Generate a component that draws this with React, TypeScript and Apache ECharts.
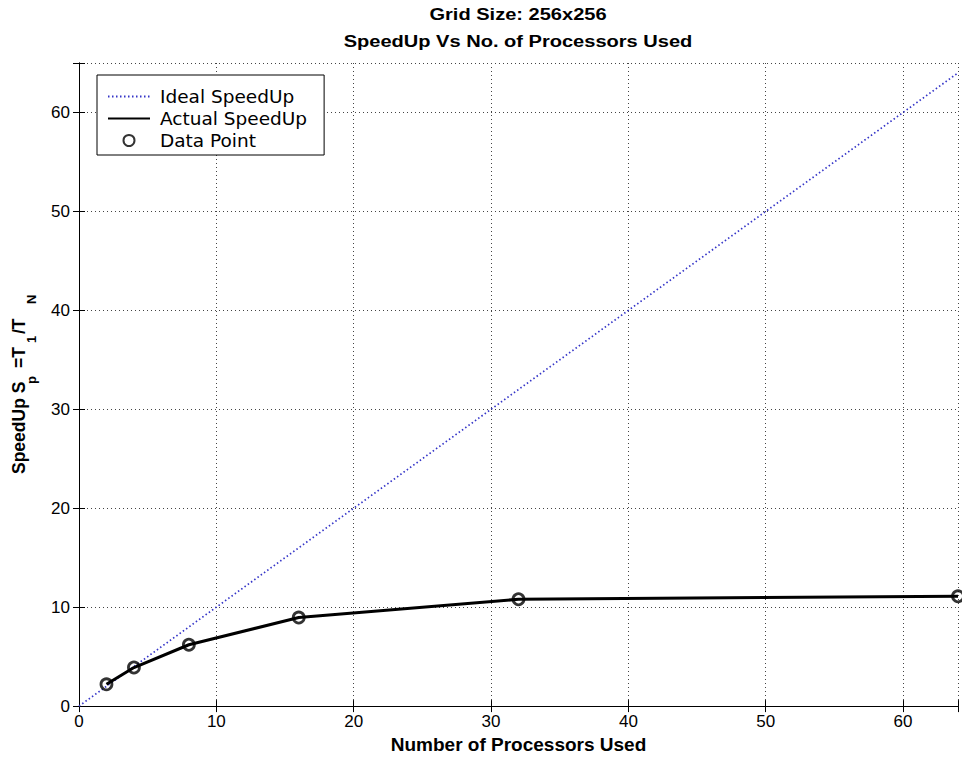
import React, { useEffect, useRef } from 'react';
import * as echarts from 'echarts';

// ---- data ----
const processors = [2, 4, 8, 16, 32, 64];
const actualSpeedup = [2.2, 3.9, 6.2, 8.95, 10.8, 11.1];
const idealX = [0, 64];
const idealY = [0, 64];
const xTicks = [0, 10, 20, 30, 40, 50, 60];
const yTicks = [0, 10, 20, 30, 40, 50, 60];
const titleLines = ['Grid Size: 256x256', 'SpeedUp Vs No. of Processors Used'];
const xAxisName = 'Number of Processors Used';
const seriesNames = ['Ideal SpeedUp', 'Actual SpeedUp', 'Data Point'];
// y-axis label pieces: [text, isSubscript]
const yLabelPieces: [string, boolean][] = [
  ['SpeedUp S', false],
  ['p', true],
  ['=T', false],
  ['1', true],
  ['/T', false],
  ['N', true],
];

const FONT = 'Arial, "Liberation Sans", sans-serif';

export default function App() {
  const ref = useRef<HTMLDivElement>(null);
  useEffect(() => {
    if (!ref.current) return;
    const chart = echarts.init(ref.current, null, { renderer: 'svg' });

    // y label layout (screen bottom positions of each piece)
    const pieceBottoms = [474, 384, 368, 343, 334, 304];
    const yLabelGraphics = yLabelPieces.map(([t, sub], i) => ({
      type: 'text',
      x: sub ? 31 : 19,
      y: pieceBottoms[i],
      rotation: Math.PI / 2,
      style: {
        text: t,
        fill: '#000',
        fontFamily: FONT,
        fontWeight: 'bold',
        fontSize: sub ? 13 : 17.5,
        align: 'left',
        verticalAlign: 'middle',
      },
    }));

    const titleGraphics = titleLines.map((t, i) => ({
      type: 'text',
      x: 518,
      y: i === 0 ? 14 : 41,
      scaleX: 1.18,
      style: {
        text: t,
        fill: '#000',
        fontFamily: FONT,
        fontWeight: 'bold',
        fontSize: 17,
        align: 'center',
        verticalAlign: 'middle',
      },
    }));

    const xMin = 0, xMax = 64, yMin = 0, yMax = 65;
    const grid = { left: 79, right: 4, top: 63, bottom: 52, containLabel: false };
    const axisLineStyle = { color: '#000', width: 1 };

    const option: any = {
      animation: false,
      backgroundColor: '#fff',
      grid,
      graphic: [...titleGraphics, ...yLabelGraphics],
      legend: {
        orient: 'vertical',
        left: 97,
        top: 75,
        data: [
          { name: seriesNames[0], itemStyle: { opacity: 0 } },
          { name: seriesNames[1], itemStyle: { opacity: 0 } },
          { name: seriesNames[2] },
        ],
        backgroundColor: '#fff',
        borderColor: '#000',
        borderWidth: 1,
        borderRadius: 0,
        padding: [12, 17, 5, 10],
        itemWidth: 42,
        itemHeight: 11,
        itemGap: 3,
        textStyle: { fontFamily: '"DejaVu Sans", sans-serif', fontSize: 18.5, color: '#000', padding: [0, 0, 0, 5] },
      },
      xAxis: [
        {
          type: 'value',
          min: xMin,
          max: xMax,
          interval: 10,
          position: 'bottom',
          name: xAxisName,
          nameLocation: 'middle',
          nameGap: 27,
          nameTextStyle: { fontFamily: FONT, fontWeight: 'bold', fontSize: 19, color: '#000' },
          axisLine: { show: true, lineStyle: axisLineStyle },
          axisTick: { show: true, inside: true, length: 6, lineStyle: axisLineStyle },
          axisLabel: {
            show: true,
            margin: 7,
            fontFamily: FONT,
            fontSize: 17,
            color: '#000',
            formatter: (v: number) => (xTicks.includes(v) ? String(v) : ''),
          },
          splitLine: { show: true, lineStyle: { color: '#444', type: [1, 3], width: 1 } },
        },
        {
          type: 'value',
          min: xMin,
          max: xMax,
          interval: 10,
          position: 'top',
          axisLine: { show: true, lineStyle: axisLineStyle },
          axisTick: { show: true, inside: true, length: 6, lineStyle: axisLineStyle },
          axisLabel: { show: false },
          splitLine: { show: false },
        },
      ],
      yAxis: [
        {
          type: 'value',
          min: yMin,
          max: yMax,
          interval: 10,
          position: 'left',
          axisLine: { show: true, lineStyle: axisLineStyle },
          axisTick: { show: true, inside: true, length: 6, lineStyle: axisLineStyle },
          axisLabel: {
            show: true,
            margin: 9,
            fontFamily: FONT,
            fontSize: 17,
            color: '#000',
            formatter: (v: number) => (yTicks.includes(v) ? String(v) : ''),
          },
          splitLine: { show: true, lineStyle: { color: '#444', type: [1, 3], width: 1 } },
        },
        {
          type: 'value',
          min: yMin,
          max: yMax,
          interval: 10,
          position: 'right',
          axisLine: { show: true, lineStyle: axisLineStyle },
          axisTick: { show: true, inside: true, length: 6, lineStyle: axisLineStyle },
          axisLabel: { show: false },
          splitLine: { show: false },
        },
      ],
      series: [
        {
          name: seriesNames[0],
          type: 'line',
          xAxisIndex: 0,
          yAxisIndex: 0,
          data: idealX.map((x, i) => [x, idealY[i]]),
          symbol: 'none',
          lineStyle: { color: '#3535c8', width: 1.7, type: [1.5, 2.5] },
          itemStyle: { color: '#3535c8' },
          z: 2,
        },
        {
          name: seriesNames[1],
          type: 'line',
          xAxisIndex: 0,
          yAxisIndex: 0,
          data: processors.map((x, i) => [x, actualSpeedup[i]]),
          symbol: 'none',
          lineStyle: { color: '#000', width: 3 },
          itemStyle: { color: '#000' },
          z: 3,
        },
        {
          name: seriesNames[2],
          type: 'scatter',
          xAxisIndex: 0,
          yAxisIndex: 0,
          data: processors.map((x, i) => [x, actualSpeedup[i]]),
          symbol: 'circle',
          symbolSize: 11,
          itemStyle: { color: 'rgba(255,255,255,0)', borderColor: '#000', borderWidth: 2.8 },
          z: 4,
        },
      ],
    };
    chart.setOption(option);
    return () => chart.dispose();
  }, []);
  return (
    <div
      ref={ref}
      style={{ position: 'absolute', left: 0, top: 0, width: 962, height: 759, background: '#fff' }}
    />
  );
}
